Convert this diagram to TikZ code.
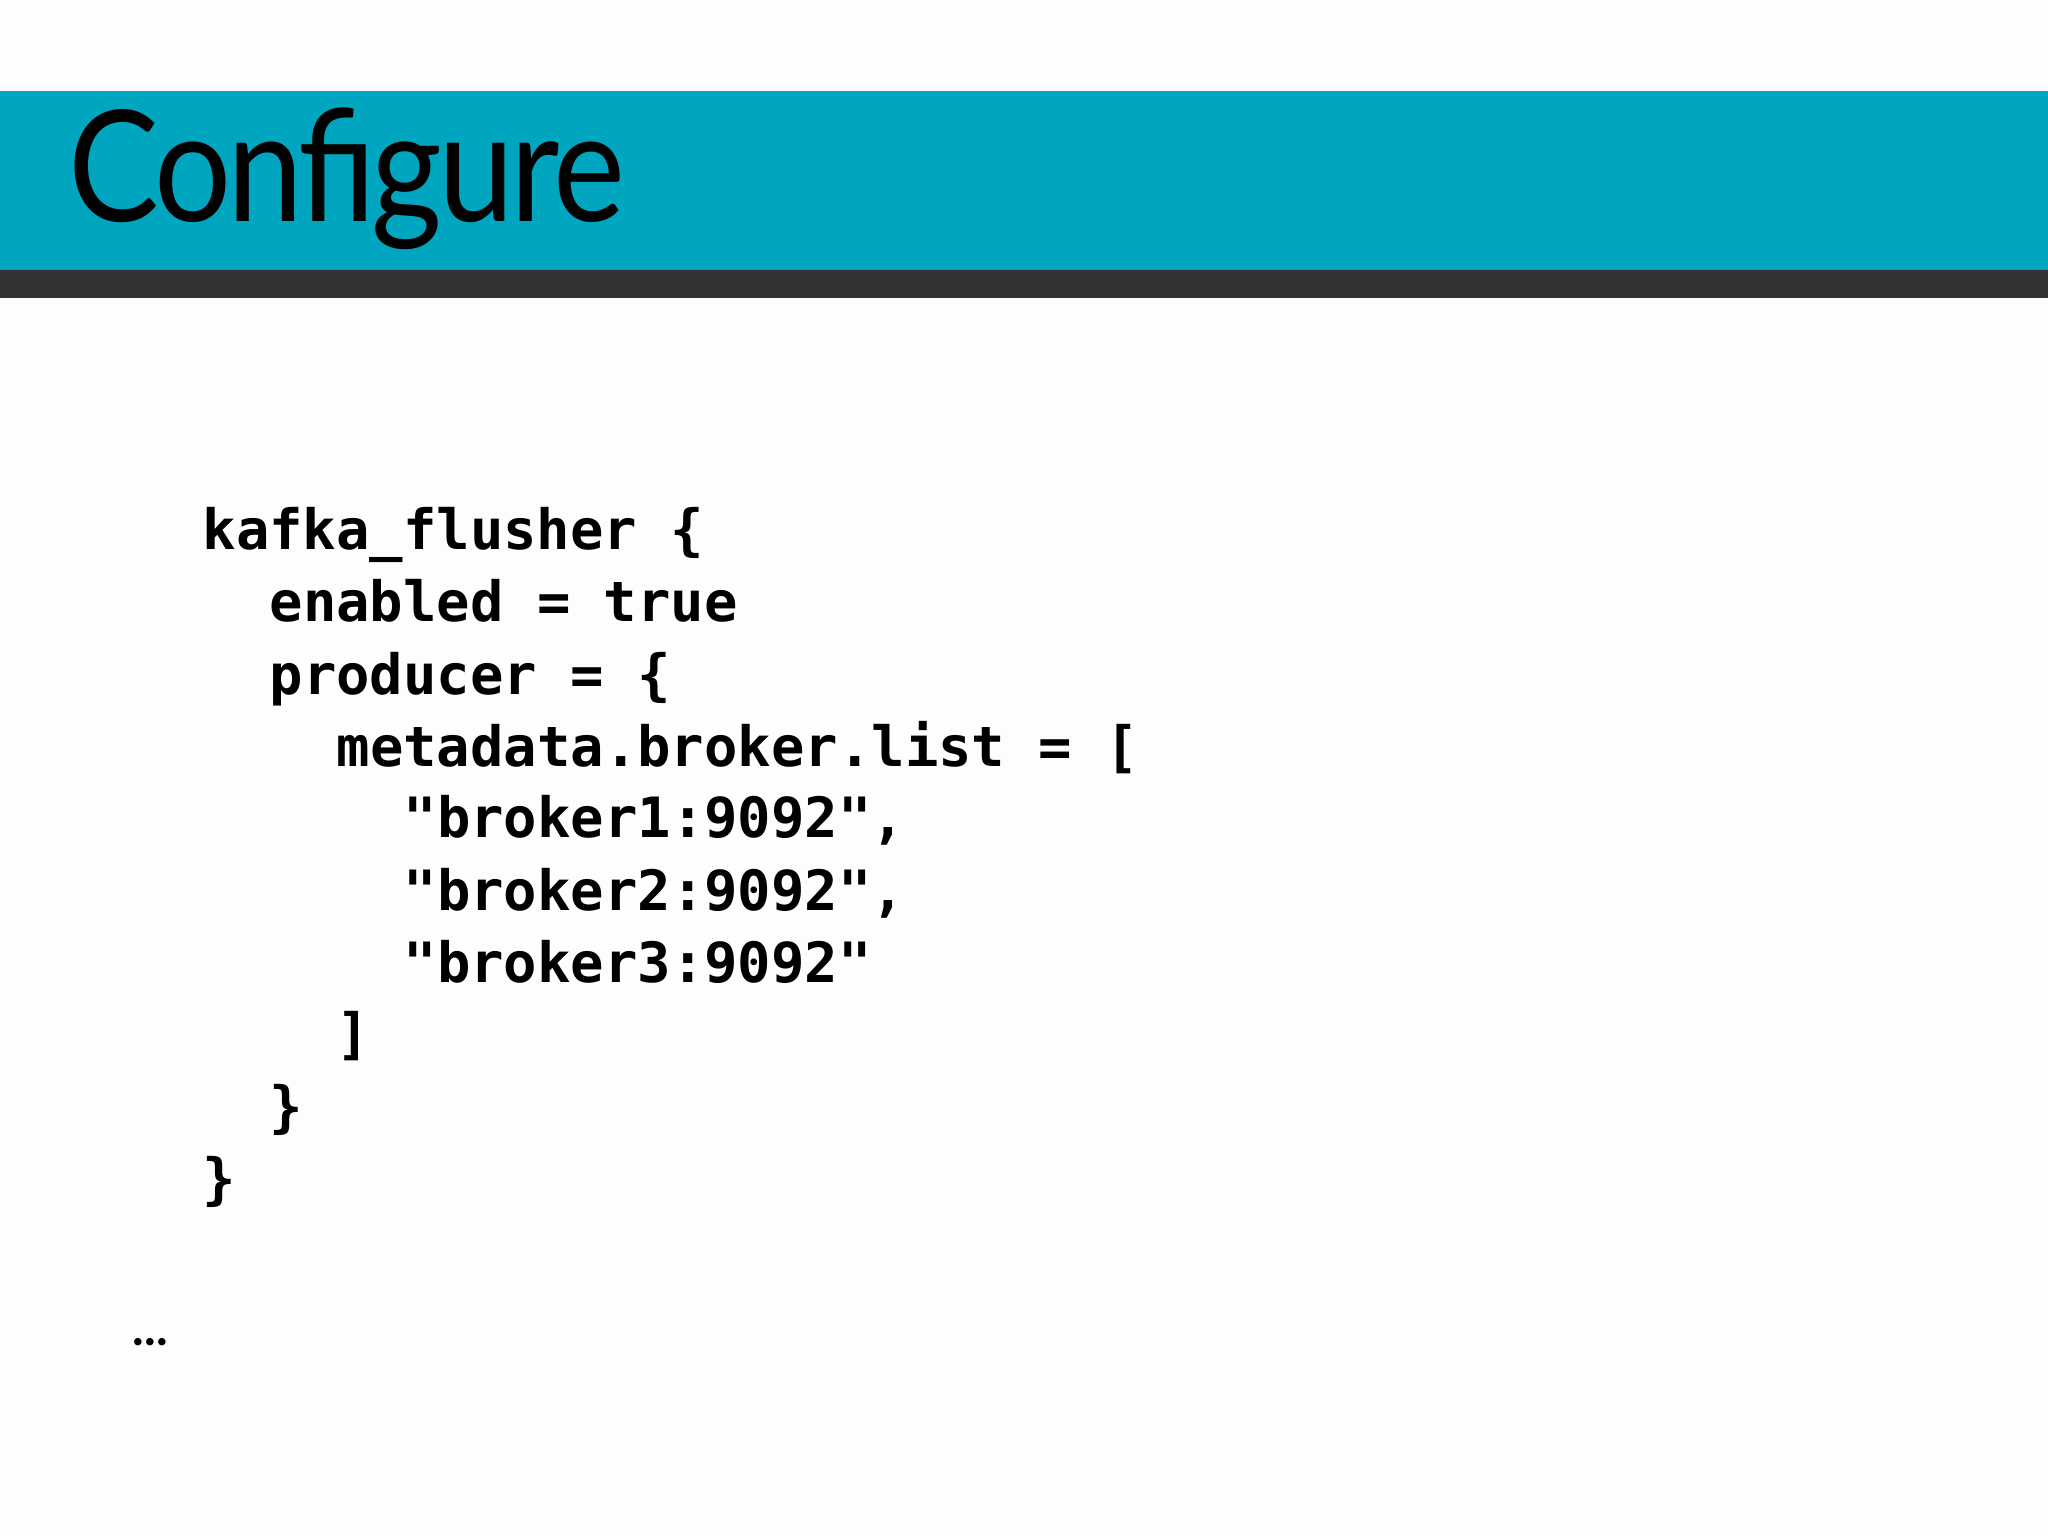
\documentclass[tikz,border=0pt]{standalone}
\usepackage{fontspec}
\setmainfont{Lato}
\setmonofont{DejaVu Sans Mono}
\definecolor{teal1}{HTML}{00A5C0}
\definecolor{dark1}{HTML}{333335}
\definecolor{bg1}{HTML}{FDFDFD}
\begin{document}
\begin{tikzpicture}[x=1cm,y=1cm,
  codeline/.style={anchor=base west,inner sep=0pt,font=\ttfamily\bfseries\fontsize{15.8}{18}\selectfont}]
\fill[bg1] (0,0) rectangle (20.48,-15.36);
\useasboundingbox (0,0) rectangle (20.48,-15.36);
\fill[teal1] (0,-0.91) rectangle (20.48,-2.70);
\fill[dark1] (0,-2.70) rectangle (20.48,-2.98);
\node[anchor=base west,inner sep=0pt,xscale=0.88,transform shape,font=\fontsize{44}{50}\selectfont\addfontfeature{LetterSpace=-3}] (title) at (0.68,-2.22) {Configure};
\node[codeline] (l1) at (2.02,-5.50) {kafka\_flusher \{};
\node[codeline] (l2) at (2.69,-6.22) {enabled = true};
\node[codeline] (l3) at (2.69,-6.94) {producer = \{};
\node[codeline] (l4) at (3.36,-7.66) {metadata.broker.list = [};
\node[codeline] (l5) at (4.03,-8.38) {"broker1:9092",};
\node[codeline] (l6) at (4.03,-9.10) {"broker2:9092",};
\node[codeline] (l7) at (4.03,-9.82) {"broker3:9092"};
\node[codeline] (l8) at (3.36,-10.54) {]};
\node[codeline] (l9) at (2.69,-11.26) {\}};
\node[codeline] (l10) at (2.02,-11.98) {\}};
\node[anchor=base west,inner sep=0pt,font=\bfseries\fontsize{14}{16}\selectfont] (dots) at (1.32,-13.45) {...};
\end{tikzpicture}
\end{document}
